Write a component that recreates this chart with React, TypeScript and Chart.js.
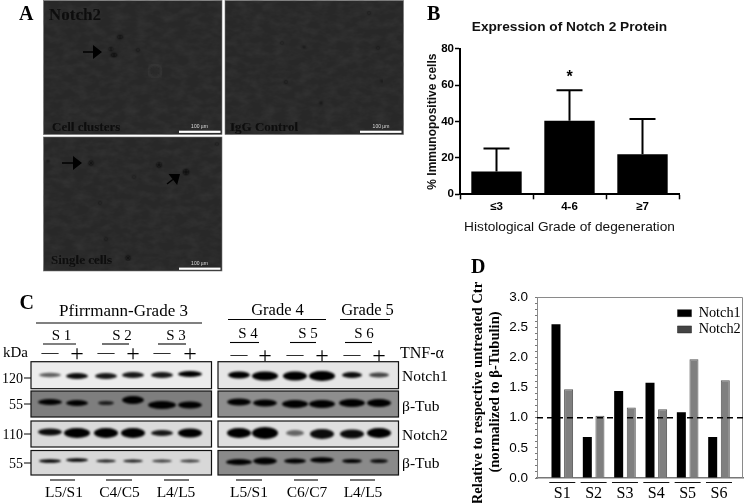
import React, { useEffect, useRef } from "react";
import { Chart, registerables } from "chart.js";

Chart.register(...registerables);

const gradeLabels = ["≤3", "4-6", "≥7"];
const gradeMeans = [12.5, 40.5, 22];
const gradeErrorTops = [25.2, 57.3, 41.5];
const gradeMarks = ["", "*", ""];
const gradeTicks = [0, 20, 40, 60, 80];

const sampleLabels = ["S1", "S2", "S3", "S4", "S5", "S6"];
const notch1Values = [2.55, 0.68, 1.44, 1.58, 1.09, 0.68];
const notch2Values = [1.47, 1.03, 1.17, 1.14, 1.97, 1.62];
const referenceLevel = 1.0;

const SANS = "'Liberation Sans', Arial, sans-serif";
const SERIF = "'Liberation Serif', 'Times New Roman', serif";

const errorBarPlugin = {
  id: "errorBars",
  afterDatasetsDraw(chart: any) {
    const { ctx, scales } = chart;
    ctx.save();
    ctx.strokeStyle = "#000";
    ctx.lineWidth = 2;
    ctx.fillStyle = "#000";
    gradeLabels.forEach((_, i) => {
      const x = scales.x.getPixelForValue(i);
      const y0 = scales.y.getPixelForValue(gradeMeans[i]);
      const y1 = scales.y.getPixelForValue(gradeErrorTops[i]);
      ctx.beginPath();
      ctx.moveTo(x, y0);
      ctx.lineTo(x, y1);
      ctx.moveTo(x - 13, y1);
      ctx.lineTo(x + 13, y1);
      ctx.stroke();
      if (gradeMarks[i]) {
        ctx.font = `bold 16px ${SANS}`;
        ctx.textAlign = "center";
        ctx.textBaseline = "top";
        ctx.fillText(gradeMarks[i], x, y1 - 21);
      }
    });
    ctx.restore();
  },
};

const panelDPlugin = {
  id: "panelD",
  beforeDraw(chart: any) {
    if (chart.legend) {
      chart.legend.left = 215.5;
      chart.legend.top = 24;
    }
  },
  afterDatasetsDraw(chart: any) {
    const { ctx, scales, chartArea } = chart;
    ctx.save();
    ctx.strokeStyle = "#8a8a8a";
    ctx.lineWidth = 1;
    ctx.beginPath();
    ctx.moveTo(chartArea.left, chartArea.top + 0.5);
    ctx.lineTo(chartArea.right - 0.5, chartArea.top + 0.5);
    ctx.lineTo(chartArea.right - 0.5, chartArea.bottom);
    ctx.stroke();
    const y = scales.y.getPixelForValue(referenceLevel);
    ctx.strokeStyle = "#000";
    ctx.lineWidth = 1.5;
    ctx.setLineDash([6, 4]);
    ctx.beginPath();
    ctx.moveTo(chartArea.left, y);
    ctx.lineTo(chartArea.right, y);
    ctx.stroke();
    ctx.setLineDash([]);
    ctx.lineWidth = 1;
    ctx.strokeStyle = "#111";
    sampleLabels.forEach((_, i) => {
      const x = scales.x.getPixelForValue(i + 1);
      ctx.beginPath();
      ctx.moveTo(x - 13, chartArea.bottom + 4.5);
      ctx.lineTo(x + 13, chartArea.bottom + 4.5);
      ctx.stroke();
    });
    ctx.restore();
  },
};

function ChartB() {
  const ref = useRef<HTMLCanvasElement>(null);
  useEffect(() => {
    const chart = new Chart(ref.current!, {
      type: "bar",
      data: {
        labels: gradeLabels,
        datasets: [
          { data: gradeMeans, backgroundColor: "#000", categoryPercentage: 1, barPercentage: 0.69 },
        ],
      },
      plugins: [errorBarPlugin],
      options: {
        responsive: false,
        animation: false,
        layout: { padding: { top: 0, right: 66, bottom: 0, left: 0 } },
        plugins: {
          legend: { display: false },
          tooltip: { enabled: false },
          title: {
            display: true,
            fullSize: false,
            text: "Expression of Notch 2 Protein",
            color: "#111",
            font: { family: SANS, size: 13.7, weight: "bold" },
            padding: { top: 19, bottom: 13.5 },
          },
        },
        scales: {
          x: {
            afterFit: (s: any) => {
              s.height = 45.7;
            },
            border: { color: "#000", width: 2 },
            grid: { drawOnChartArea: false, color: "#000", tickLength: 5, tickWidth: 1.5 },
            ticks: { color: "#000", font: { family: SANS, size: 11.5, weight: "bold" }, padding: 1, maxRotation: 0 },
            title: {
              display: true,
              text: "Histological Grade of degeneration",
              color: "#111",
              font: { family: SANS, size: 13.7 },
              padding: { top: 4, bottom: 5 },
            },
          },
          y: {
            min: 0,
            max: 80,
            afterBuildTicks: (s: any) => {
              s.ticks = gradeTicks.map((value) => ({ value }));
            },
            afterFit: (s: any) => {
              s.width = 40;
            },
            border: { color: "#000", width: 2 },
            grid: { drawOnChartArea: false, color: "#000", tickLength: 5, tickWidth: 1.5 },
            ticks: { color: "#000", font: { family: SANS, size: 11.5, weight: "bold" }, padding: 1 },
            title: {
              display: true,
              text: "% Immunopositive cells",
              color: "#111",
              font: { family: SANS, size: 12, weight: "bold" },
              padding: { top: 5, bottom: 0 },
            },
          },
        },
      },
    } as any);
    return () => chart.destroy();
  }, []);
  return <canvas ref={ref} width={325} height={240} style={{ position: "absolute", left: 420, top: 0 }} />;
}

function ChartD() {
  const ref = useRef<HTMLCanvasElement>(null);
  useEffect(() => {
    const chart = new Chart(ref.current!, {
      type: "bar",
      data: {
        datasets: [
          {
            label: "Notch1",
            data: notch1Values.map((y, i) => ({ x: i + 1, y })),
            backgroundColor: "#000",
            borderColor: "#000",
            borderWidth: 0,
            categoryPercentage: 0.805,
            barPercentage: 0.714,
          },
          {
            label: "Notch2",
            data: notch2Values.map((y, i) => ({ x: i + 1, y })),
            backgroundColor: "#7f7f7f",
            borderColor: "#555",
            borderWidth: 1,
            categoryPercentage: 0.805,
            barPercentage: 0.714,
          },
        ],
      },
      plugins: [panelDPlugin],
      options: {
        responsive: false,
        animation: false,
        layout: { padding: { top: 17, right: 2, bottom: 0, left: 0 } },
        plugins: {
          tooltip: { enabled: false },
          legend: {
            display: true,
            position: "chartArea",
            align: "start",
            labels: {
              boxWidth: 14,
              boxHeight: 7,
              color: "#000",
              padding: 2,
              font: { family: SERIF, size: 14.3 },
              generateLabels: (c: any) =>
                c.data.datasets.map((d: any, i: number) => ({
                  text: d.label,
                  fillStyle: i === 0 ? "#000" : "#444",
                  strokeStyle: "#222",
                  lineWidth: 0.5,
                  datasetIndex: i,
                  fontColor: "#000",
                })),
            },
          },
        },
        scales: {
          x: {
            type: "linear",
            min: 0.193,
            max: 6.766,
            offset: false,
            afterBuildTicks: (s: any) => {
              s.ticks = sampleLabels.map((_, i) => ({ value: i + 1 }));
            },
            afterFit: (s: any) => {
              s.height = 25;
            },
            border: { color: "#777", width: 1.5 },
            grid: { display: false, drawTicks: false },
            ticks: {
              color: "#000",
              padding: 6,
              autoSkip: false,
              maxRotation: 0,
              font: { family: SERIF, size: 16 },
              callback: (v: any) => sampleLabels[Number(v) - 1],
            },
          },
          y: {
            min: 0,
            max: 3,
            afterBuildTicks: (s: any) => {
              s.ticks = Array.from({ length: 31 }, (_, i) => ({ value: i / 10 }));
            },
            afterFit: (s: any) => {
              s.width = 77;
            },
            border: { color: "#8a8a8a", width: 1 },
            grid: { drawOnChartArea: false, tickLength: 2, tickWidth: 1, tickColor: "#777" },
            ticks: {
              color: "#000",
              padding: 7,
              autoSkip: false,
              font: { family: SANS, size: 13.5 },
              callback: (v: any) => (Math.round(Number(v) * 10) % 5 === 0 ? Number(v).toFixed(1) : ""),
            },
          },
        },
      },
    } as any);
    return () => chart.destroy();
  }, []);
  return <canvas ref={ref} width={285} height={223} style={{ position: "absolute", left: 460, top: 280 }} />;
}

const micrographs = [
  { x: 43.5, y: 0.5, w: 178.5, h: 134 },
  { x: 225, y: 0.5, w: 178.5, h: 134 },
  { x: 43.5, y: 137, w: 178.5, h: 134 },
];
const cellSpots = [
  [120, 37, 2.8, 1.5], [111, 49, 2.2, 1.6], [114, 55, 3, 1.8], [138, 50, 1.3, 1.3],
  [369, 13, 1.2, 1.2], [282, 43, 1.2, 1.2], [304, 47, 1.2, 1.1], [378, 48, 1.2, 1.2], [286, 82, 1.2, 1.2], [382, 81, 0.9, 0.9], [321, 103, 0.9, 1.2],
  [91, 163, 2.2, 2.2], [159, 165, 2.4, 2.4], [186, 172, 2.8, 2.8], [134, 177, 1.2, 1.2], [100, 203, 1.2, 1.2], [48, 161, 1.1, 1.1], [128, 258, 2.2, 2.2], [106, 239, 1.2, 1.2], [217, 144, 1.8, 1],
];
const micrographTexts = [
  { t: "Notch2", x: 49, y: 20, s: 17 },
  { t: "Cell clusters", x: 52, y: 131, s: 13 },
  { t: "IgG Control", x: 230, y: 131, s: 13 },
  { t: "Single cells", x: 51, y: 264, s: 13 },
];
const scaleBars = [
  { x: 179, y: 130.7, tx: 199.5 },
  { x: 360, y: 130.7, tx: 381 },
  { x: 179, y: 267.6, tx: 199.5 },
];

const laneXLeft = [50, 77, 106, 133, 162, 190];
const laneXRight = [239, 265, 295, 322, 352, 379];
const blotRows = [
  { y: 361.7, h: 27, left: "#ececec", right: "#e6e6e6", bandY: [375, 376, 376, 375, 375, 374], bandYR: [375, 376, 376, 376, 375, 375],
    l: [[11, 2.2, 0.6], [11, 3, 0.95], [11, 3, 0.9], [11, 3, 0.9], [11, 3, 0.9], [12, 3, 1]], r: [[11, 3.5, 1], [13, 4.5, 1], [12, 4.5, 1], [13, 5, 1], [10, 3, 0.95], [10, 2.5, 0.7]] },
  { y: 391, h: 26, left: "#7e7e7e", right: "#8e8e8e", bandY: [402, 403, 403, 400, 405, 405], bandYR: [402, 403, 404, 404, 403, 403],
    l: [[12, 3, 1], [11, 3, 1], [8, 2, 0.8], [11, 4, 1], [14, 4, 1], [12, 3.5, 1]], r: [[12, 3.5, 1], [12, 3.5, 1], [13, 4, 1], [13, 4, 1], [13, 4, 1], [12, 4, 1]] },
  { y: 421, h: 26, left: "#dadada", right: "#dfdfdf", bandY: [432, 433, 433, 433, 433, 433], bandYR: [433, 433, 433, 434, 434, 433],
    l: [[12, 3.5, 0.95], [13, 5, 1], [12, 5, 1], [12, 5, 1], [11, 3, 0.9], [12, 4.5, 1]], r: [[12, 5, 1], [13, 6, 1], [9, 3, 0.55], [12, 5, 0.95], [12, 4.5, 0.95], [12, 5, 1]] },
  { y: 450.5, h: 24.5, left: "#d8d8d8", right: "#8a8a8a", bandY: [461, 460, 461, 461, 461, 461], bandYR: [462, 461, 461, 460, 461, 461],
    l: [[11, 1.8, 1], [11, 1.8, 1], [10, 1.5, 0.9], [10, 1.5, 0.9], [10, 1.4, 0.75], [10, 1.4, 0.75]], r: [[13, 3, 1], [12, 3.5, 1], [11, 2.5, 1], [12, 2.8, 1], [10, 2, 1], [9, 2, 0.9]] },
];
const topLabels = [
  { t: "Pfirrmann-Grade 3", x: 123.5, y: 316, s: 17 },
  { t: "Grade 4", x: 277.5, y: 315, s: 16.5 },
  { t: "Grade 5", x: 367.5, y: 315, s: 16.5 },
  { t: "S 1", x: 61.5, y: 340, s: 15 },
  { t: "S 2", x: 122, y: 340, s: 15 },
  { t: "S 3", x: 176, y: 340, s: 15 },
  { t: "S 4", x: 248, y: 338, s: 15 },
  { t: "S 5", x: 308, y: 338, s: 15 },
  { t: "S 6", x: 364, y: 338, s: 15 },
];
const topRules = [
  [36, 202, 323], [228, 326, 319.5], [340, 390, 319.5],
  [43, 76, 344], [102, 129, 344], [158, 186, 344],
  [230, 259, 342.5], [290, 316, 342.5], [345, 372, 342.5],
  [50, 75, 480], [106, 132, 480], [164, 189, 480], [236, 262, 480], [294, 318, 480], [350, 375, 480],
];
const levelLabels = [
  { t: "L5/S1", x: 64, y: 497 }, { t: "C4/C5", x: 119.5, y: 497 }, { t: "L4/L5", x: 176, y: 497 },
  { t: "L5/S1", x: 249, y: 497 }, { t: "C6/C7", x: 307, y: 497 }, { t: "L4/L5", x: 363, y: 497 },
];
const treatments = ["—", "+"];
const kdaLabels = [
  { t: "120", y: 383 }, { t: "55", y: 409 }, { t: "110", y: 439 }, { t: "55", y: 468 },
];
const proteinLabels = [
  { t: "Notch1", y: 381 }, { t: "β-Tub", y: 411 }, { t: "Notch2", y: 440 }, { t: "β-Tub", y: 468 },
];
const yTitleD = [
  { t: "Relative to respective untreated Ctr", x: 482, cy: 393 },
  { t: "(normalized to β-Tubulin)", x: 499, cy: 392 },
];

function Arrow({ x1, y1, x2, y2 }: { x1: number; y1: number; x2: number; y2: number }) {
  const a = Math.atan2(y2 - y1, x2 - x1);
  const h = 9;
  const w = 7;
  const bx = x2 - Math.cos(a) * h;
  const by = y2 - Math.sin(a) * h;
  const px = -Math.sin(a) * w;
  const py = Math.cos(a) * w;
  return (
    <g fill="#000" stroke="#000">
      <line x1={x1} y1={y1} x2={bx} y2={by} strokeWidth={1.5} />
      <polygon points={`${x2},${y2} ${bx + px},${by + py} ${bx - px},${by - py}`} stroke="none" />
    </g>
  );
}

function Panels() {
  const serif = { fontFamily: SERIF };
  return (
    <svg width={745} height={503} style={{ position: "absolute", left: 0, top: 0 }}>
      <defs>
        <filter id="soft" x="-50%" y="-100%" width="200%" height="300%">
          <feGaussianBlur stdDeviation="0.9" />
        </filter>
        <filter id="soft2" x="0" y="0" width="100%" height="100%">
          <feGaussianBlur stdDeviation="0.8" />
        </filter>
        <filter id="text" x="-5%" y="-20%" width="110%" height="140%">
          <feGaussianBlur stdDeviation="0.25" />
        </filter>
        <filter id="mottle" x="0" y="0" width="100%" height="100%" colorInterpolationFilters="sRGB">
          <feTurbulence type="fractalNoise" baseFrequency="0.08 0.14" numOctaves={3} seed={4} />
          <feColorMatrix type="matrix" values="0 0 0 0 0.3  0 0 0 0 0.3  0 0 0 0 0.3  0 0 0 0.5 -0.18" />
        </filter>
      </defs>
      <g opacity={0.999}>
        {micrographs.map((m, i) => (
          <g key={i}>
            <rect x={m.x} y={m.y} width={m.w} height={m.h} fill="#282828" stroke="#777" strokeWidth={0.6} />
            <rect x={m.x} y={m.y} width={m.w} height={m.h} filter="url(#mottle)" />
          </g>
        ))}
        <ellipse cx={155} cy={71} rx={7} ry={7} fill="none" stroke="#3a3a3a" strokeWidth={1.5} filter="url(#soft2)" />
        <g filter="url(#soft2)">
          {cellSpots.map(([x, y, rx, ry], i) => (
            <ellipse key={i} cx={x} cy={y} rx={rx} ry={ry} fill="#080808" />
          ))}
        </g>
        <Arrow x1={83} y1={52} x2={102} y2={52} />
        <Arrow x1={62} y1={163} x2={82} y2={163} />
        <Arrow x1={167} y1={184} x2={180} y2={174} />
        {micrographTexts.map((m, i) => (
          <text key={i} x={m.x} y={m.y} fontSize={m.s} fontWeight="bold" fill="#0c0c0c" style={serif} filter="url(#text)">
            {m.t}
          </text>
        ))}
        {scaleBars.map((b, i) => (
          <g key={i}>
            <rect x={b.x} y={b.y} width={41.5} height={2.2} fill="#fff" />
            <text x={b.tx} y={b.y - 3} fontSize={5} fill="#ddd" textAnchor="middle" style={{ fontFamily: SANS }}>
              100 µm
            </text>
          </g>
        ))}

        <text x={19} y={20} fontSize={20} fontWeight="bold" style={serif}>A</text>
        <text x={427} y={20} fontSize={20} fontWeight="bold" style={serif}>B</text>
        <text x={19.5} y={309} fontSize={20} fontWeight="bold" style={serif}>C</text>
        <text x={471} y={273} fontSize={20} fontWeight="bold" style={serif}>D</text>

        {topLabels.map((l, i) => (
          <text key={i} x={l.x} y={l.y} fontSize={l.s} textAnchor="middle" style={serif}>{l.t}</text>
        ))}
        {topRules.map(([a, b, y], i) => (
          <line key={i} x1={a} x2={b} y1={y} y2={y} stroke="#000" strokeWidth={1.1} />
        ))}
        <text x={3} y={357} fontSize={15} style={serif}>kDa</text>
        {laneXLeft.map((x, i) => (
          <text key={i} x={x} y={i % 2 ? 361 : 357} fontSize={i % 2 ? 24 : 17} textAnchor="middle" style={serif}>
            {treatments[i % 2]}
          </text>
        ))}
        {laneXRight.map((x, i) => (
          <text key={i} x={x} y={i % 2 ? 363 : 359} fontSize={i % 2 ? 24 : 17} textAnchor="middle" style={serif}>
            {treatments[i % 2]}
          </text>
        ))}
        <text x={400} y={358} fontSize={16} style={serif}>TNF-α</text>

        {blotRows.map((r, ri) => (
          <g key={ri}>
            <rect x={31} y={r.y} width={180.5} height={r.h} fill={r.left} stroke="#111" strokeWidth={1.2} />
            <rect x={218} y={r.y} width={180.5} height={r.h} fill={r.right} stroke="#111" strokeWidth={1.2} />
            <g filter="url(#soft)">
              {laneXLeft.map((x, i) => (
                <ellipse key={i} cx={x} cy={r.bandY[i]} rx={r.l[i][0]} ry={r.l[i][1]} fill="#000" opacity={r.l[i][2]} />
              ))}
              {laneXRight.map((x, i) => (
                <ellipse key={i} cx={x} cy={r.bandYR[i]} rx={r.r[i][0]} ry={r.r[i][1]} fill="#000" opacity={r.r[i][2]} />
              ))}
            </g>
          </g>
        ))}
        {kdaLabels.map((k, i) => (
          <g key={i}>
            <text x={23} y={k.y} fontSize={14} textAnchor="end" style={serif}>{k.t}</text>
            <line x1={24} x2={31} y1={k.y - 5} y2={k.y - 5} stroke="#000" strokeWidth={1} />
          </g>
        ))}
        {proteinLabels.map((p, i) => (
          <text key={i} x={402} y={p.y} fontSize={15.5} style={serif}>{p.t}</text>
        ))}
        {levelLabels.map((l, i) => (
          <text key={i} x={l.x} y={l.y} fontSize={15.5} textAnchor="middle" style={serif}>{l.t}</text>
        ))}
        {yTitleD.map((l, i) => (
          <text
            key={i}
            transform={`translate(${l.x},${l.cy}) rotate(-90)`}
            fontSize={14.6}
            fontWeight="bold"
            textAnchor="middle"
            style={serif}
          >
            {l.t}
          </text>
        ))}
      </g>
    </svg>
  );
}

export default function App() {
  return (
    <div style={{ position: "absolute", left: 0, top: 0, width: 745, height: 503, background: "#fff", overflow: "hidden" }}>
      <Panels />
      <ChartB />
      <ChartD />
    </div>
  );
}
